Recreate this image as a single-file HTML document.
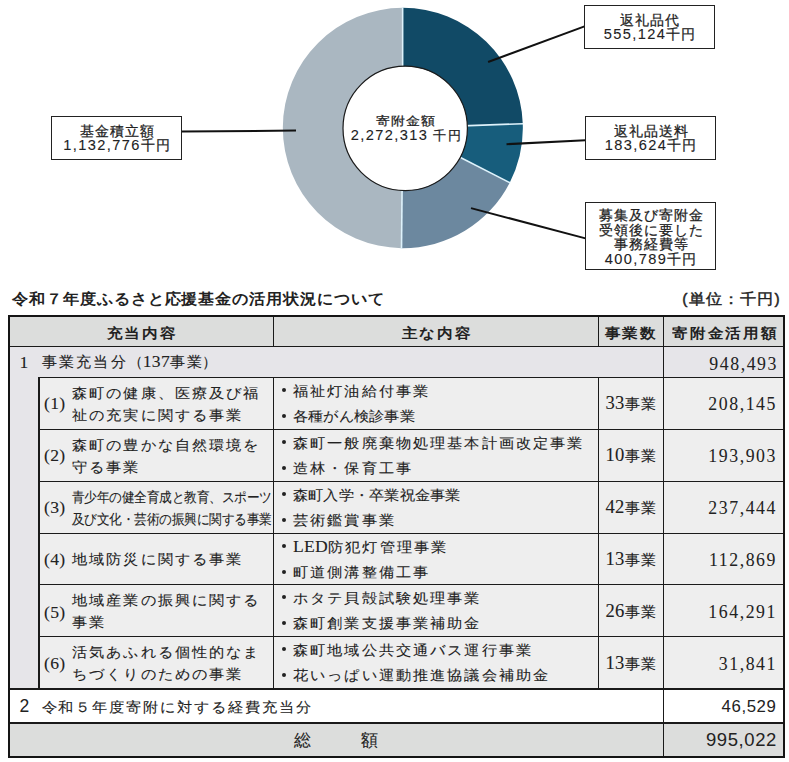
<!DOCTYPE html>
<html lang="ja">
<head>
<meta charset="utf-8">
<style>
html,body{margin:0;padding:0;background:#fff;}
body{width:789px;height:762px;overflow:hidden;position:relative;font-family:"Liberation Sans",sans-serif;color:#222;}
.sk{-webkit-text-stroke:0.25px #222;}
.a{position:absolute;white-space:nowrap;}
.lbl{position:absolute;border:1px solid #222;background:#fff;box-sizing:border-box;}
.lt{position:absolute;left:0;right:0;text-align:center;font-size:13.8px;letter-spacing:1.0px;text-indent:1.0px;line-height:16px;color:#222;white-space:nowrap;}
.d{font-size:14.6px;letter-spacing:1.4px;-webkit-text-stroke:0.1px #222;}
.hl{position:absolute;background:#1a1a1a;height:1px;}
.vl{position:absolute;background:#1a1a1a;width:1px;}
.t{position:absolute;white-space:nowrap;font-size:15.1px;letter-spacing:2.15px;line-height:20px;color:#222;-webkit-text-stroke:0.1px #222;}
.cj{transform:scaleY(0.92);transform-origin:0 9.3px;}
.t .s,.t.s{font-size:17.6px;letter-spacing:0.3px;}
.t .cn{font-size:18.6px;letter-spacing:0.2px;}
.s{font-family:"Liberation Serif",serif;}
.hd{position:absolute;white-space:nowrap;font-size:16px;letter-spacing:1.75px;margin-top:1px;transform:scaleY(0.9);transform-origin:0 10px;font-weight:bold;line-height:20px;color:#222;}
.num{position:absolute;margin-right:-2px;white-space:nowrap;font-family:"Liberation Serif",serif;font-size:17.8px;letter-spacing:1.55px;-webkit-text-stroke:0.05px #222;line-height:20px;text-align:right;color:#222;}
.bul{position:absolute;width:4px;height:4px;border-radius:50%;background:#222;}
.cnt{position:absolute;white-space:nowrap;font-size:16.8px;line-height:20px;color:#222;text-align:center;width:65px;}
</style>
</head>
<body>
<!-- Chart -->
<svg class="a" style="left:0;top:0" width="789" height="280" viewBox="0 0 789 280">
<path d="M402.65,7.80 A120.2,120.2 0 0 1 522.77,123.70 L460.61,125.92 A58.0,58.0 0 0 0 402.65,70.00 Z" fill="#114a66"/>
<path d="M522.77,123.70 A120.2,120.2 0 0 1 509.71,182.64 L454.31,154.37 A58.0,58.0 0 0 0 460.61,125.92 Z" fill="#175d7c"/>
<path d="M509.71,182.64 A120.2,120.2 0 0 1 401.53,248.19 L402.11,186.00 A58.0,58.0 0 0 0 454.31,154.37 Z" fill="#6c889f"/>
<path d="M401.53,248.19 A120.2,120.2 0 0 1 402.65,7.80 L402.65,70.00 A58.0,58.0 0 0 0 402.11,186.00 Z" fill="#aab7c1"/>
<line x1="402.65" y1="68.00" x2="402.65" y2="7.30" stroke="#def2fb" stroke-width="1.6"/>
<line x1="462.61" y1="125.85" x2="523.27" y2="123.68" stroke="#def2fb" stroke-width="1.6"/>
<line x1="456.09" y1="155.28" x2="510.16" y2="182.87" stroke="#def2fb" stroke-width="1.6"/>
<line x1="402.09" y1="188.00" x2="401.52" y2="248.69" stroke="#def2fb" stroke-width="1.6"/>
<circle cx="405.2" cy="128.35" r="62.2" fill="#fff" stroke="#1a1a1a" stroke-width="1.2"/>
<line x1="182" y1="131.4" x2="296" y2="130.6" stroke="#111" stroke-width="2"/>
<line x1="488.1" y1="62" x2="584.5" y2="26.4" stroke="#111" stroke-width="2"/>
<line x1="506.5" y1="144.2" x2="585.5" y2="140.3" stroke="#111" stroke-width="2"/>
<line x1="471" y1="208.1" x2="585.5" y2="238.4" stroke="#111" stroke-width="2"/>

</svg>
<div class="a sk" style="left:345.3px;top:113px;width:120px;text-align:center;font-size:14.4px;letter-spacing:0.9px;text-indent:0.9px;line-height:16px;transform:scaleY(0.86);transform-origin:50% 8px;">寄附金額</div>
<div class="a sk" style="left:346.3px;top:127px;width:120px;text-align:center;font-size:13.4px;letter-spacing:1.3px;line-height:16px;"><span class="d">2,272,313</span> 千円</div>

<div class="lbl sk" style="left:51px;top:116px;width:131px;height:44px;">
  <div class="lt" style="top:7.3px">基金積立額</div>
  <div class="lt" style="top:20px"><span class="d">1,132,776</span>千円</div>
</div>
<div class="lbl sk" style="left:584px;top:5px;width:131px;height:44px;">
  <div class="lt" style="top:7.3px">返礼品代</div>
  <div class="lt" style="top:20px"><span class="d">555,124</span>千円</div>
</div>
<div class="lbl sk" style="left:585px;top:116px;width:131px;height:44px;">
  <div class="lt" style="top:7.3px">返礼品送料</div>
  <div class="lt" style="top:20px"><span class="d">183,624</span>千円</div>
</div>
<div class="lbl sk" style="left:585px;top:202px;width:131px;height:68px;">
  <div class="lt" style="top:4.6px">募集及び寄附金</div>
  <div class="lt" style="top:19.7px">受領後に要した</div>
  <div class="lt" style="top:33.9px">事務経費等</div>
  <div class="lt" style="top:48px"><span class="d">400,789</span>千円</div>
</div>

<!-- Table title -->
<div class="a" style="left:12px;top:288px;font-size:15.6px;letter-spacing:0.95px;font-weight:bold;line-height:22px;transform:scaleY(0.93);transform-origin:0 11px;">令和７年度ふるさと応援基金の活用状況について</div>
<div class="a" style="right:8px;top:288px;font-size:15.6px;letter-spacing:1.2px;line-height:22px;-webkit-text-stroke:0.45px #222;transform:scaleY(0.93);transform-origin:0 11px;">(単位：千円)</div>

<!-- Table frame -->
<div class="a" style="left:8px;top:315px;width:777px;height:443px;box-sizing:border-box;border:2px solid #151515;background:#e6e5e9;"></div>
<div class="a" style="left:40px;top:378px;width:743px;height:310px;background:#eeeeee;"></div>
<div class="a" style="left:10px;top:317px;width:773px;height:29px;background:#dcdddc;"></div>
<div class="a" style="left:10px;top:690px;width:773px;height:32px;background:#fff;"></div>
<div class="a" style="left:10px;top:724px;width:773px;height:32px;background:#dcdddc;"></div>
<!-- horizontal lines -->
<div class="hl" style="left:10px;top:346px;width:773px;"></div>
<div class="hl" style="left:38px;top:377px;width:745px;"></div>
<div class="hl" style="left:40px;top:429px;width:743px;"></div>
<div class="hl" style="left:40px;top:481px;width:743px;"></div>
<div class="hl" style="left:40px;top:533px;width:743px;"></div>
<div class="hl" style="left:40px;top:584px;width:743px;"></div>
<div class="hl" style="left:40px;top:636px;width:743px;"></div>
<div class="hl" style="left:10px;top:688px;width:773px;height:2px;"></div>
<div class="hl" style="left:10px;top:722px;width:773px;height:2px;"></div>
<!-- vertical lines -->
<div class="vl" style="left:38px;top:377px;height:311px;width:2px;"></div>
<div class="vl" style="left:273px;top:317px;height:29px;"></div>
<div class="vl" style="left:598px;top:317px;height:29px;"></div>
<div class="vl" style="left:273px;top:377px;height:311px;"></div>
<div class="vl" style="left:598px;top:377px;height:311px;"></div>
<div class="vl" style="left:663px;top:317px;height:439px;"></div>

<!-- header -->
<div class="hd" style="left:106.5px;top:322px;">充当内容</div>
<div class="hd" style="left:401.5px;top:322px;">主な内容</div>
<div class="hd" style="left:604.5px;top:322px;">事業数</div>
<div class="hd" style="left:672px;top:322px;">寄附金活用額</div>

<!-- row 1 -->
<div class="t s" style="left:19.5px;top:351.5px;">1</div>
<div class="t" style="left:42px;top:351px;">事業充当分<span style="letter-spacing:0">（</span><span class="s">137</span>事<span style="letter-spacing:0">業</span>）</div>
<div class="num" style="right:13px;top:353.5px;">948,493</div>

<div class="t s" style="left:44px;top:393px;">(1)</div>
<div class="t cj" style="left:72px;top:383.0px;">森町の健康、医療及び福</div>
<div class="t cj" style="left:72px;top:404.5px;">祉の充実に関する事業</div>
<div class="bul" style="left:282px;top:388.0px;"></div>
<div class="t cj" style="left:293px;top:380.5px;">福祉灯油給付事業</div>
<div class="bul" style="left:282px;top:413.5px;"></div>
<div class="t cj" style="left:293px;top:406.0px;letter-spacing:0.22px;">各種がん検診事業</div>
<div class="t" style="left:605.5px;top:392.9px;letter-spacing:1.3px;"><span class="s cn">33</span>事業</div>
<div class="num" style="right:14px;top:393.9px;">208,145</div>
<div class="t s" style="left:44px;top:445px;">(2)</div>
<div class="t cj" style="left:72px;top:435.0px;">森町の豊かな自然環境を</div>
<div class="t cj" style="left:72px;top:456.5px;">守る事業</div>
<div class="bul" style="left:282px;top:440.0px;"></div>
<div class="t cj" style="left:293px;top:432.5px;">森町一般廃棄物処理基本計画改定事業</div>
<div class="bul" style="left:282px;top:465.5px;"></div>
<div class="t cj" style="left:293px;top:458.0px;">造林・保育工事</div>
<div class="t" style="left:605.5px;top:444.9px;letter-spacing:1.3px;"><span class="s cn">10</span>事業</div>
<div class="num" style="right:14px;top:445.9px;">193,903</div>
<div class="t s" style="left:44px;top:497px;">(3)</div>
<div class="t cj" style="left:72px;top:486.5px;letter-spacing:0;transform:scale(0.832,0.92);transform-origin:0 9.3px;">青少年の健全育成と教育、スポーツ</div>
<div class="t cj" style="left:72px;top:508.5px;letter-spacing:0;transform:scale(0.832,0.92);transform-origin:0 9.3px;">及び文化・芸術の振興に関する事業</div>
<div class="bul" style="left:282px;top:492.0px;"></div>
<div class="t cj" style="left:293px;top:484.5px;letter-spacing:0.22px;">森町入学・卒業祝金事業</div>
<div class="bul" style="left:282px;top:517.5px;"></div>
<div class="t cj" style="left:293px;top:510.0px;">芸術鑑賞事業</div>
<div class="t" style="left:605.5px;top:496.9px;letter-spacing:1.3px;"><span class="s cn">42</span>事業</div>
<div class="num" style="right:14px;top:497.9px;">237,444</div>
<div class="t s" style="left:44px;top:549px;">(4)</div>
<div class="t cj" style="left:72px;top:549px;">地域防災に関する事業</div>
<div class="bul" style="left:282px;top:544.0px;"></div>
<div class="t cj" style="left:293px;top:536.5px;"><span class="s">LED</span>防犯灯管理事業</div>
<div class="bul" style="left:282px;top:569.5px;"></div>
<div class="t cj" style="left:293px;top:562.0px;">町道側溝整備工事</div>
<div class="t" style="left:605.5px;top:548.9px;letter-spacing:1.3px;"><span class="s cn">13</span>事業</div>
<div class="num" style="right:14px;top:549.9px;">112,869</div>
<div class="t s" style="left:44px;top:601.5px;">(5)</div>
<div class="t cj" style="left:72px;top:590.3px;">地域産業の振興に関する</div>
<div class="t cj" style="left:72px;top:611.8px;">事業</div>
<div class="bul" style="left:282px;top:595.3px;"></div>
<div class="t cj" style="left:293px;top:587.8px;">ホタテ貝殻試験処理事業</div>
<div class="bul" style="left:282px;top:620.8px;"></div>
<div class="t cj" style="left:293px;top:613.3px;">森町創業支援事業補助金</div>
<div class="t" style="left:605.5px;top:601.0px;letter-spacing:1.3px;"><span class="s cn">26</span>事業</div>
<div class="num" style="right:14px;top:602.0px;">164,291</div>
<div class="t s" style="left:44px;top:653.4000000000001px;">(6)</div>
<div class="t cj" style="left:72px;top:642.2px;">活気あふれる個性的なま</div>
<div class="t cj" style="left:72px;top:663.7px;">ちづくりのための事業</div>
<div class="bul" style="left:282px;top:647.2px;"></div>
<div class="t cj" style="left:293px;top:639.7px;">森町地域公共交通バス運行事業</div>
<div class="bul" style="left:282px;top:672.7px;"></div>
<div class="t cj" style="left:293px;top:665.2px;">花いっぱい運動推進協議会補助金</div>
<div class="t" style="left:605.5px;top:652.9000000000001px;letter-spacing:1.3px;"><span class="s cn">13</span>事業</div>
<div class="num" style="right:14px;top:653.9000000000001px;">31,841</div>

<!-- row 2 -->
<div class="a" style="left:19.5px;top:696px;font-size:17.5px;line-height:20px;">2</div>
<div class="t cj" style="left:41.5px;top:696.5px;letter-spacing:1.95px;">令和５年度寄附に対する経費充当分</div>
<div class="a" style="right:12.5px;top:697px;font-size:16.8px;line-height:20px;letter-spacing:0.6px;">46,529</div>
<!-- total -->
<div class="t" style="left:293.5px;top:730.5px;font-size:16.6px;">総</div>
<div class="t" style="left:361px;top:730.5px;font-size:16.6px;">額</div>
<div class="a" style="right:12px;top:729px;font-size:18.5px;line-height:22px;letter-spacing:0.6px;">995,022</div>
</body>
</html>
